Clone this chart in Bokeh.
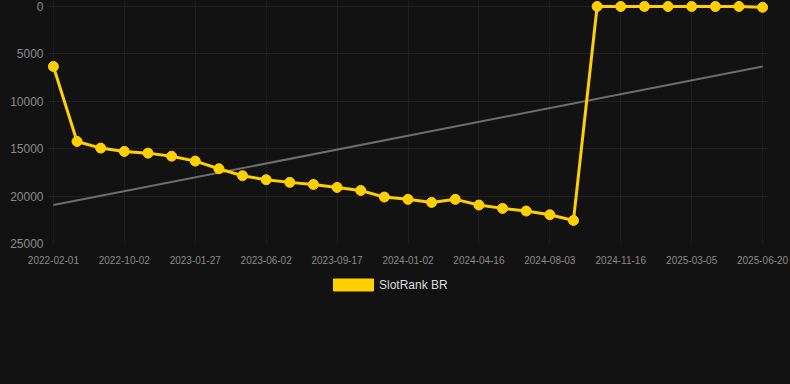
from bokeh.plotting import figure
from bokeh.layouts import column
from bokeh.models import Range1d, FixedTicker, Legend, LegendItem, ColumnDataSource
from bokeh.embed import file_html
from bokeh.resources import INLINE

# ---- data ----
tick_labels = ["2022-02-01", "2022-10-02", "2023-01-27", "2023-06-02", "2023-09-17",
               "2024-01-02", "2024-04-16", "2024-08-03", "2024-11-16", "2025-03-05",
               "2025-06-20"]
rank_values = [6350, 14250, 14950, 15300, 15480, 15800, 16320, 17120, 17860, 18280,
               18560, 18780, 19090, 19410, 20110, 20350, 20670, 20350, 20950, 21300,
               21580, 21970, 22570, 30, 30, 30, 30, 30, 30, 30, 120]
trend_values = [20950, 6350]
series_name = "SlotRank BR"

n = len(rank_values)
xs = list(range(n))
tick_positions = list(range(0, n, 3))

BG = "#121212"
YEL = "#FFD000"
page_style = {"background-color": BG}

p = figure(width=790, height=270, output_backend="svg", toolbar_location=None,
           x_range=Range1d(-0.25, n - 1 + 0.25), y_range=Range1d(25000, -600),
           background_fill_color=BG, border_fill_color=BG,
           outline_line_color=None,
           min_border_left=47, min_border_right=22, min_border_top=0, min_border_bottom=27,
           styles=page_style)

p.xaxis.ticker = FixedTicker(ticks=tick_positions)
p.xaxis.major_label_overrides = {pos: lab for pos, lab in zip(tick_positions, tick_labels)}
p.yaxis.ticker = FixedTicker(ticks=[0, 5000, 10000, 15000, 20000, 25000])

for ax in (p.xaxis[0], p.yaxis[0]):
    ax.axis_line_color = None
    ax.major_tick_line_color = None
    ax.minor_tick_line_color = None
    ax.major_label_text_font = "Arial"
p.yaxis.major_label_text_font_size = "12px"
p.yaxis.major_label_text_color = "#8a8a8a"
p.yaxis.major_label_standoff = -2
p.xaxis.major_label_text_font_size = "10px"
p.xaxis.major_label_text_color = "#8a8a8a"
p.xaxis.major_label_standoff = 6

p.xgrid.grid_line_color = "#1e1e1e"
p.ygrid.grid_line_color = "#222222"

src = ColumnDataSource(dict(x=xs, y=rank_values))
p.line([xs[0], xs[-1]], trend_values, line_color="#6e6e6e", line_width=2)
p.line("x", "y", source=src, line_color=YEL, line_width=3)
p.scatter("x", "y", source=src, size=10, fill_color=YEL, line_color=YEL)

# legend strip below the chart
lf = figure(width=790, height=114, output_backend="svg", toolbar_location=None,
            x_range=Range1d(0, 1), y_range=Range1d(0, 1),
            background_fill_color=BG, border_fill_color=BG,
            outline_line_color=None,
            min_border=0, x_axis_type=None, y_axis_type=None, styles=page_style)
lf.xgrid.visible = False
lf.ygrid.visible = False
# legend proxy placed outside the visible range
sw = lf.quad(left=[-3], right=[-2], top=[-2], bottom=[-3], fill_color=YEL, line_color=YEL)
legend = Legend(items=[LegendItem(label=series_name, renderers=[sw])],
                location=(281, 92), orientation="horizontal",
                background_fill_alpha=0, border_line_color=None,
                glyph_width=50, glyph_height=15, padding=0, margin=0, spacing=0,
                label_text_color="#dddddd", label_text_font="Arial",
                label_text_font_size="12px", label_standoff=1)
lf.add_layout(legend, "center")

layout = column(p, lf, spacing=0, styles=page_style)
open("out.html", "w").write(file_html(layout, INLINE))
